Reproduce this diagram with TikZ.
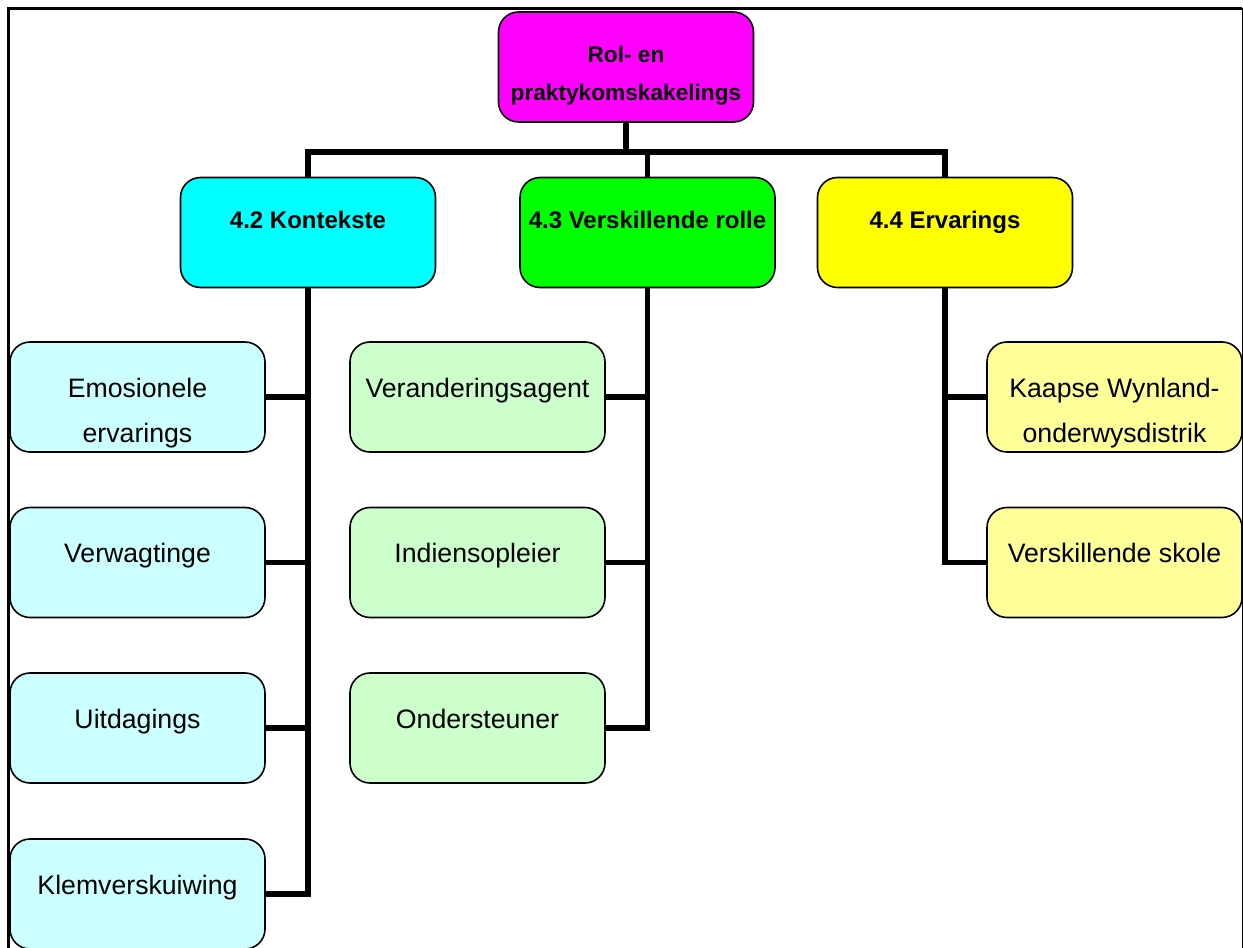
\documentclass[tikz,border=0pt]{standalone}
\usepackage{fontspec}
\setmainfont{Liberation Sans}
\definecolor{dmagenta}{HTML}{FF00FF}
\definecolor{dcyan}{HTML}{00FFFF}
\definecolor{dgreen}{HTML}{00FF00}
\definecolor{dyellow}{HTML}{FFFF00}
\definecolor{lcyan}{HTML}{CCFFFF}
\definecolor{lgreen}{HTML}{CCFFCC}
\definecolor{lyellow}{HTML}{FFFF99}

\begin{document}
\begin{tikzpicture}[x=0.75pt,y=-0.75pt,
  box/.style={draw,line width=1.2pt,rounded corners=15pt,inner sep=0pt},
  conn/.style={line width=4pt}]

\def\bw{191.25pt}
\def\bh{82.5pt}
\def\boxtext#1#2{\parbox[c][\bh][t]{\bw}{\centering#1#2}}
\def\root{\bfseries\fontsize{17}{28.5}\selectfont\rule{0pt}{38pt}}
\def\head{\bfseries\fontsize{18}{30}\selectfont\rule{0pt}{38pt}}
\def\leaf{\fontsize{20}{33.75}\selectfont\rule{0pt}{41.5pt}}

\path [use as bounding box] (0,0) rectangle (1243,948);

% FRAME
\draw [line width=2.25pt] (8.5,960) -- (8.5,8.5) -- (1242,8.5);
\draw [line width=0.75pt] (1242,8.5) -- (1242,960);

% TOP
\node [box,fill=dmagenta] (root) at (626,67) {\boxtext\root{Rol- en\\praktykomskakelings}};

% SECTIONS
\node [box,fill=dcyan] (k) at (308,232.5) {\boxtext\head{4.2 Kontekste}};
\node [box,fill=dgreen] (v) at (647.5,232.5) {\boxtext\head{4.3 Verskillende rolle}};
\node [box,fill=dyellow] (e) at (945,232.5) {\boxtext\head{4.4 Ervarings}};

% KONTEKSTE
\node [box,fill=lcyan] (k1) at (137.5,397) {\boxtext\leaf{Emosionele\\ervarings}};
\node [box,fill=lcyan] (k2) at (137.5,562.5) {\boxtext\leaf{Verwagtinge}};
\node [box,fill=lcyan] (k3) at (137.5,728) {\boxtext\leaf{Uitdagings}};
\node [box,fill=lcyan] (k4) at (137.5,894) {\boxtext\leaf{Klemverskuiwing}};

% ROLLE
\node [box,fill=lgreen] (v1) at (477.5,397) {\boxtext\leaf{Veranderingsagent}};
\node [box,fill=lgreen] (v2) at (477.5,562.5) {\boxtext\leaf{Indiensopleier}};
\node [box,fill=lgreen] (v3) at (477.5,728) {\boxtext\leaf{Ondersteuner}};

% ERVARINGS
\node [box,fill=lyellow] (e1) at (1114.5,397) {\boxtext\leaf{Kaapse Wynland-\\onderwysdistrik}};
\node [box,fill=lyellow] (e2) at (1114.5,562.5) {\boxtext\leaf{Verskillende skole}};

% LINKS
\coordinate (bar) at (626,152);
\draw [conn] (root.south) -- (bar);
\draw [conn] (k.north) -- (k.north |- bar) -| (e.north);
\draw [conn] (v.north) -- (v.north |- bar);

\draw [conn] (k.south) |- (k4);
\foreach \n in {k1,k2,k3} \draw [conn] (\n) -- (\n -| k);
\draw [conn] (v.south) |- (v3);
\foreach \n in {v1,v2} \draw [conn] (\n) -- (\n -| v);
\draw [conn] (e.south) |- (e2);
\draw [conn] (e1) -- (e1 -| e);

\end{tikzpicture}
\end{document}
